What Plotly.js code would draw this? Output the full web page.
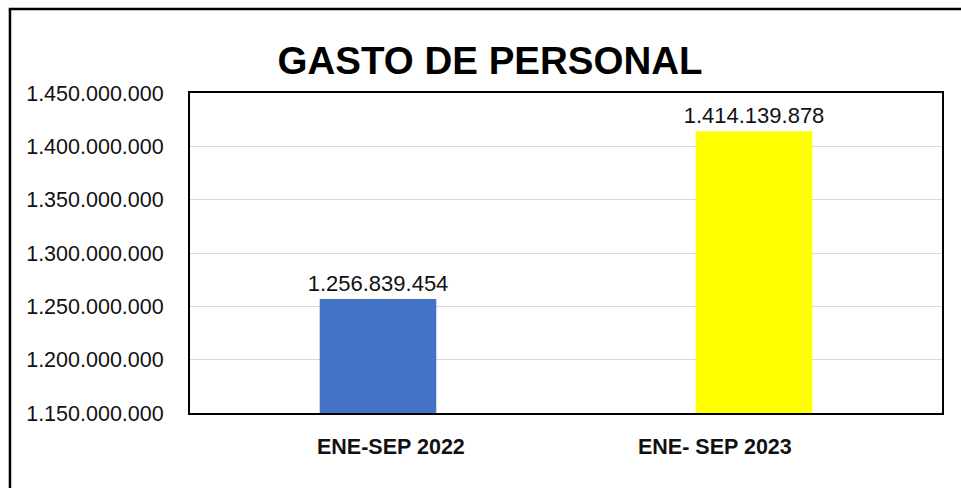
<!DOCTYPE html>
<html>
<head>
<meta charset="utf-8">
<script src="https://cdn.plot.ly/plotly-3.0.1.min.js"></script>
<style>html,body{margin:0;padding:0;background:#fff;}#chart{width:961px;height:488px;}</style>
</head>
<body>
<div id="chart"></div>
<script>
const categories = ["ENE-SEP 2022", "ENE- SEP 2023"];
const values = [1256839454, 1414139878];
const barColors = ["#4472C4", "#FFFF00"];
const tickValues = [1150000000, 1200000000, 1250000000, 1300000000, 1350000000, 1400000000, 1450000000];
const labelShift = [13, -39];

const FONT = "'Liberation Sans', Arial, sans-serif";

const trace = {
  type: "bar",
  x: categories,
  y: values,
  marker: {color: barColors, line: {width: 0}},
  texttemplate: "%{y:,}",
  textposition: "outside",
  constraintext: "none",
  cliponaxis: false,
  textfont: {family: FONT, size: 22, color: "#111"},
  hoverinfo: "skip"
};

const annotations = categories.map((c, i) => ({
  x: c, xref: "x", y: 0, yref: "paper", yshift: -34, xshift: labelShift[i],
  text: "<b>" + c + "</b>", showarrow: false,
  font: {family: FONT, size: 21.5, color: "#111"}, xanchor: "center", yanchor: "middle"
}));

const shapes = [
  {type: "line", xref: "paper", yref: "paper", x0: -0.2394, x1: -0.2394, y0: 1.2625, y1: -0.25, line: {color: "#000", width: 2.5}},
  {type: "line", xref: "paper", yref: "paper", x0: -0.241, x1: 1.04, y0: 1.2625, y1: 1.2625, line: {color: "#000", width: 2.5}}
];

const layout = {
  width: 961, height: 488,
  margin: {l: 190, r: 19, t: 93, b: 75, pad: 0},
  paper_bgcolor: "#fff", plot_bgcolor: "#fff",
  separators: ",.",
  bargap: 0.69,
  showlegend: false,
  title: {
    text: "<b>GASTO DE PERSONAL</b>",
    xref: "container", yref: "container",
    x: 0.51, xanchor: "center", y: 0.875, yanchor: "middle",
    font: {family: FONT, size: 38.5, color: "#000"}
  },
  xaxis: {
    type: "category",
    showticklabels: false,
    showgrid: false,
    showline: true, linecolor: "#000", linewidth: 2, mirror: true,
    ticks: "", zeroline: false, fixedrange: true
  },
  yaxis: {
    range: [1150000000, 1450000000],
    tickvals: tickValues,
    tickformat: ",",
    showgrid: true, gridcolor: "#d9d9d9", gridwidth: 1,
    showline: true, linecolor: "#000", linewidth: 2, mirror: true,
    ticks: "outside", ticklen: 20, tickcolor: "rgba(0,0,0,0)",
    tickfont: {family: FONT, size: 21.5, color: "#111"},
    zeroline: false, fixedrange: true
  },
  annotations: annotations,
  shapes: shapes
};

Plotly.newPlot("chart", [trace], layout, {displayModeBar: false, staticPlot: true});
</script>
</body>
</html>
